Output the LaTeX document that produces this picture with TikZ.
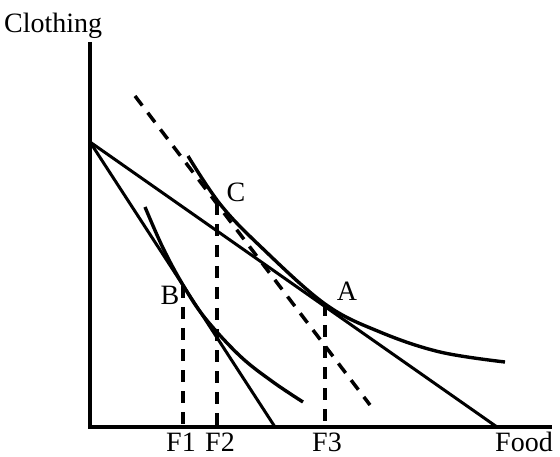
\documentclass[tikz,border=0pt]{standalone}
\usepackage{fontspec}
\setmainfont{Liberation Serif}
\begin{document}
\begin{tikzpicture}[x=1pt,y=-1pt,
  axis/.style={line width=4pt},
  budget/.style={line width=3pt},
  icurve/.style={line width=3.4pt},
  dashline/.style={line width=3.5pt, dash pattern=on 12pt off 9pt},
  lbl/.style={inner sep=0pt, anchor=base, font=\fontsize{28}{30}\selectfont}]
\useasboundingbox (0,0) rectangle (560,457);
% axes
\coordinate (O) at (90,427);
\coordinate (Ytop) at (90,42);
\coordinate (Xend) at (552,427);
\draw[axis] (Ytop) -- (O) -- (Xend);
% budget lines
\coordinate (Yint) at (90,142);
\coordinate (Xa) at (497,427);
\coordinate (Xb) at (275,427);
\draw[budget] (Yint) -- (Xa);
\draw[budget] (Yint) -- (Xb);
% dashed compensating line
\coordinate (D1) at (135,96);
\coordinate (D2) at (370,405);
\draw[dashline] (D1) -- (D2);
% indifference curves
\draw[icurve] plot[smooth, tension=0.6] coordinates {(188,156) (220,204) (260,246) (325,304) (380,332) (440,352) (505,362)};
\draw[icurve] plot[smooth, tension=0.6] coordinates {(145,207) (163,248) (183,285) (205,318) (240,356) (273,382) (303,402)};
% tangency points
\coordinate (A) at (325,304);
\coordinate (B) at (183,286);
\coordinate (C) at (217,203);
\coordinate (F1b) at (183,427);
\coordinate (F2b) at (217,427);
\coordinate (F3b) at (325,427);
\draw[dashline] (B) -- (F1b);
\draw[dashline] (C) -- (F2b);
\draw[dashline] (A) -- (F3b);
% labels
\node[lbl, anchor=base west] (tcl) at (4,33) {Clothing};
\node[lbl] (tfood) at (524,451) {Food};
\node[lbl] (tf1) at (181,451) {F1};
\node[lbl] (tf2) at (220,451) {F2};
\node[lbl] (tf3) at (327,451) {F3};
\node[lbl] (ta) at (347,301) {A};
\node[lbl] (tb) at (170,305) {B};
\node[lbl] (tc) at (236,202) {C};
\end{tikzpicture}
\end{document}
